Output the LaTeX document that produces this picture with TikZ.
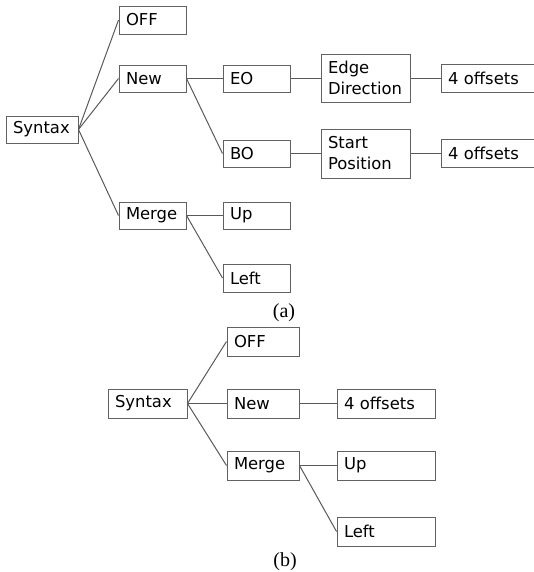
\documentclass[tikz,border=0pt]{standalone}
\usepackage{fontspec}
\setmainfont{DejaVu Sans}
\newfontfamily\capfont{Liberation Serif}
\begin{document}
\begin{tikzpicture}[x=0.75pt,y=-0.75pt,
  bx/.style={draw=black!62, line width=0.75pt, rectangle, inner xsep=5.25pt, inner ysep=0pt,
    align=left, font=\fontsize{12.3}{15.75}\selectfont},
  ln/.style={draw=black!65, line width=0.75pt},
  captext/.style={font=\capfont\fontsize{15}{18}\selectfont, inner sep=0pt}]
\newcommand\bx[6]{\node[bx, minimum width={(#4-#2)*0.75pt}, minimum height={(#5-#3)*0.75pt}, text width={(#4-#2-14)*0.75pt}] (#1) at ({(#2+#4)/2},{(#3+#5)/2}) {#6};}
\useasboundingbox (0,0) rectangle (533,572);
% (a)
\bx{syn}{6}{116}{78}{143}{Syntax}
\bx{off}{119}{6}{186}{34}{OFF}
\bx{new}{119}{65}{186}{92}{New}
\bx{mrg}{119}{202}{186}{229}{Merge}
\bx{eo}{223}{65}{290}{92}{EO}
\bx{bo}{223}{140}{290}{167}{BO}
\bx{up}{223}{202}{290}{229}{Up}
\bx{lft}{223}{264}{290}{292}{Left}
\bx{ed}{321}{54}{410}{102}{Edge\\Direction}
\bx{sp}{321}{129}{410}{178}{Start\\Position}
\bx{ofa}{441}{64}{545}{92}{4 offsets}
\bx{ofb}{441}{139}{545}{167}{4 offsets}
\draw[ln] (syn.east) -- (off.west);
\draw[ln] (syn.east) -- (new.west);
\draw[ln] (syn.east) -- (mrg.west);
\draw[ln] (new.east) -- (eo.west);
\draw[ln] (new.east) -- (bo.west);
\draw[ln] (eo.east) -- (eo.east -| ed.west);
\draw[ln] (bo.east) -- (bo.east -| sp.west);
\draw[ln] (ed.east) -- (ed.east -| ofa.west);
\draw[ln] (sp.east) -- (sp.east -| ofb.west);
\draw[ln] (mrg.east) -- (up.west);
\draw[ln] (mrg.east) -- (lft.west);
\node[captext] (capa) at (284,313) {(a)};
% (b)
\bx{synb}{108}{389}{187}{418}{Syntax}
\bx{offb}{227}{327}{299}{356}{OFF}
\bx{newb}{227}{389}{299}{418}{New}
\bx{mrgb}{227}{451}{299}{480}{Merge}
\bx{ofc}{337}{389}{435}{418}{4 offsets}
\bx{upb}{337}{451}{435}{480}{Up}
\bx{lftb}{337}{517}{435}{546}{Left}
\draw[ln] (synb.east) -- (offb.west);
\draw[ln] (synb.east) -- (newb.west);
\draw[ln] (synb.east) -- (mrgb.west);
\draw[ln] (newb.east) -- (ofc.west);
\draw[ln] (mrgb.east) -- (upb.west);
\draw[ln] (mrgb.east) -- (lftb.west);
\node[captext] (capb) at (285,562) {(b)};
\end{tikzpicture}
\end{document}
